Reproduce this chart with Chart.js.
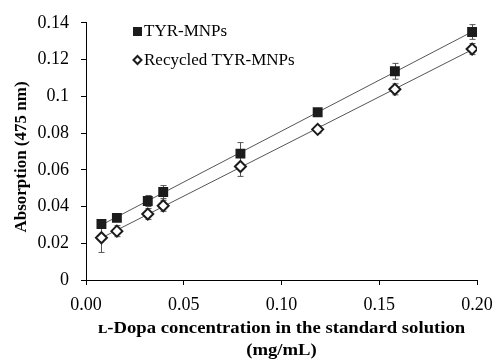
<!DOCTYPE html>
<html>
<head>
<meta charset="utf-8">
<script src="https://cdn.jsdelivr.net/npm/chart.js@4"></script>
<style>
  html, body { margin: 0; padding: 0; background: #fff; }
  #wrap { width: 492px; height: 360px; }
</style>
</head>
<body>
<div id="wrap"><canvas id="dopaChart"></canvas></div>
<script>
// L-Dopa concentration (mg/mL)
const concentrations = [0.0079, 0.0158, 0.0316, 0.0395, 0.079, 0.1185, 0.158, 0.1975];
// absorption at 475 nm
const tyrValues = [0.0305, 0.0338, 0.043, 0.0479, 0.0688, 0.0913, 0.1136, 0.135];
const tyrErrors = [0.0015, 0.002, 0.003, 0.0035, 0.006, 0.0015, 0.0043, 0.004];
const recycledValues = [0.023, 0.0266, 0.0359, 0.0404, 0.0618, 0.082, 0.1038, 0.1257];
const recycledErrors = [0.008, 0.003, 0.003, 0.003, 0.0054, 0.002, 0.003, 0.003];

const seriesNames = ["TYR-MNPs", "Recycled TYR-MNPs"];
const xTickLabels = ["0.00", "0.05", "0.10", "0.15", "0.20"];
const yTickLabels = ["0", "0.02", "0.04", "0.06", "0.08", "0.1", "0.12", "0.14"];
const xTitle = ["\u029F-Dopa concentration in the standard solution", "(mg/mL)"];
const yTitle = "Absorption (475 nm)";

const FONT = "'Liberation Serif', 'Times New Roman', serif";
const INK = "#1c1c1c";

// least squares trend line, end points at first and last x
function trendLine(xs, ys) {
  const n = xs.length;
  const mx = xs.reduce((a, b) => a + b, 0) / n;
  const my = ys.reduce((a, b) => a + b, 0) / n;
  let sxy = 0, sxx = 0;
  for (let i = 0; i < n; i++) {
    sxy += (xs[i] - mx) * (ys[i] - my);
    sxx += (xs[i] - mx) * (xs[i] - mx);
  }
  const slope = sxy / sxx;
  const icpt = my - slope * mx;
  const x0 = xs[0], x1 = xs[n - 1];
  return [{ x: x0, y: icpt + slope * x0 }, { x: x1, y: icpt + slope * x1 }];
}

const toPoints = (ys) => concentrations.map((x, i) => ({ x: x, y: ys[i] }));

// error bars, drawn under the markers
const errorBars = {
  id: "errorBars",
  beforeDatasetsDraw(chart) {
    const ctx = chart.ctx;
    const xs = chart.scales.x, ys = chart.scales.y;
    const sets = [[tyrValues, tyrErrors], [recycledValues, recycledErrors]];
    ctx.save();
    ctx.strokeStyle = "#555";
    ctx.lineWidth = 1;
    sets.forEach(([vals, errs]) => {
      vals.forEach((v, i) => {
        const px = Math.round(xs.getPixelForValue(concentrations[i])) + 0.5;
        const top = ys.getPixelForValue(v + errs[i]);
        const bot = ys.getPixelForValue(v - errs[i]);
        ctx.beginPath();
        ctx.moveTo(px, top); ctx.lineTo(px, bot);
        ctx.moveTo(px - 3, top); ctx.lineTo(px + 3, top);
        ctx.moveTo(px - 3, bot); ctx.lineTo(px + 3, bot);
        ctx.stroke();
      });
    });
    ctx.restore();
  }
};

// legend and axis titles
const decorations = {
  id: "decorations",
  afterDraw(chart) {
    const ctx = chart.ctx;
    ctx.save();
    ctx.fillStyle = "#000";
    ctx.textBaseline = "middle";

    // legend
    ctx.font = "17px " + FONT;
    ctx.textAlign = "left";
    ctx.fillStyle = INK;
    ctx.fillRect(133, 27, 9, 9);
    ctx.fillStyle = "#000";
    ctx.fillText(seriesNames[0], 144, 32);
    ctx.beginPath();
    ctx.moveTo(137.5, 56); ctx.lineTo(141.5, 60);
    ctx.lineTo(137.5, 64); ctx.lineTo(133.5, 60);
    ctx.closePath();
    ctx.fillStyle = "#fff"; ctx.fill();
    ctx.strokeStyle = INK; ctx.lineWidth = 2; ctx.stroke();
    ctx.fillStyle = "#000";
    ctx.fillText(seriesNames[1], 144, 61);

    // axis titles
    ctx.font = "bold 17px " + FONT;
    ctx.textAlign = "center";
    const cx = (chart.chartArea.left + chart.chartArea.right) / 2;
    ctx.save();
    ctx.translate(cx, 0);
    ctx.scale(1.1, 1);
    ctx.fillText(xTitle[0], 0, 329);
    ctx.fillText(xTitle[1], 0, 351);
    ctx.restore();

    ctx.translate(22, 157);
    ctx.rotate(-Math.PI / 2);
    ctx.fillText(yTitle, 0, 0);
    ctx.restore();
  }
};

new Chart(document.getElementById("dopaChart"), {
  type: "scatter",
  data: {
    datasets: [
      {
        label: seriesNames[0],
        data: toPoints(tyrValues),
        pointStyle: "rect",
        pointRadius: 7,
        pointHoverRadius: 7,
        backgroundColor: INK,
        borderColor: INK,
        borderWidth: 0,
        order: 1,
      },
      {
        label: seriesNames[1],
        data: toPoints(recycledValues),
        pointStyle: "rectRot",
        pointRadius: 5.5,
        pointHoverRadius: 5.5,
        backgroundColor: "#fff",
        borderColor: INK,
        borderWidth: 2,
        order: 2,
      },
      {
        type: "line",
        data: trendLine(concentrations, tyrValues),
        borderColor: "#555",
        borderWidth: 1,
        pointRadius: 0,
        fill: false,
        order: 5,
      },
      {
        type: "line",
        data: trendLine(concentrations, recycledValues),
        borderColor: "#555",
        borderWidth: 1,
        pointRadius: 0,
        fill: false,
        order: 5,
      },
    ],
  },
  options: {
    responsive: true,
    maintainAspectRatio: false,
    animation: false,
    layout: { padding: { top: 19, right: 0, left: 0, bottom: 0 } },
    plugins: {
      legend: { display: false },
      tooltip: { enabled: false },
    },
    scales: {
      x: {
        type: "linear",
        min: 0,
        max: 0.2,
        afterFit(scale) {
          scale.height = 80;
          scale.paddingLeft = 0;
          scale.paddingRight = 15;
        },
        afterBuildTicks(scale) {
          scale.ticks = xTickLabels.map((t) => ({ value: parseFloat(t) }));
        },
        ticks: {
          color: "#000",
          padding: 9,
          maxRotation: 0,
          font: { family: FONT, size: 18 },
          callback: (v, i) => xTickLabels[i],
        },
        grid: {
          drawOnChartArea: false,
          drawTicks: true,
          tickLength: 5,
          color: "#000",
        },
        border: { color: "#000", width: 1 },
      },
      y: {
        min: 0,
        max: 0.14,
        afterFit(scale) { scale.width = 86; },
        afterBuildTicks(scale) {
          scale.ticks = yTickLabels.map((t) => ({ value: parseFloat(t) }));
        },
        ticks: {
          color: "#000",
          padding: 12,
          font: { family: FONT, size: 18 },
          callback: (v, i) => yTickLabels[i],
        },
        grid: {
          drawOnChartArea: false,
          drawTicks: true,
          tickLength: 5,
          color: "#000",
        },
        border: { color: "#000", width: 1 },
      },
    },
  },
  plugins: [errorBars, decorations],
});
</script>
</body>
</html>
